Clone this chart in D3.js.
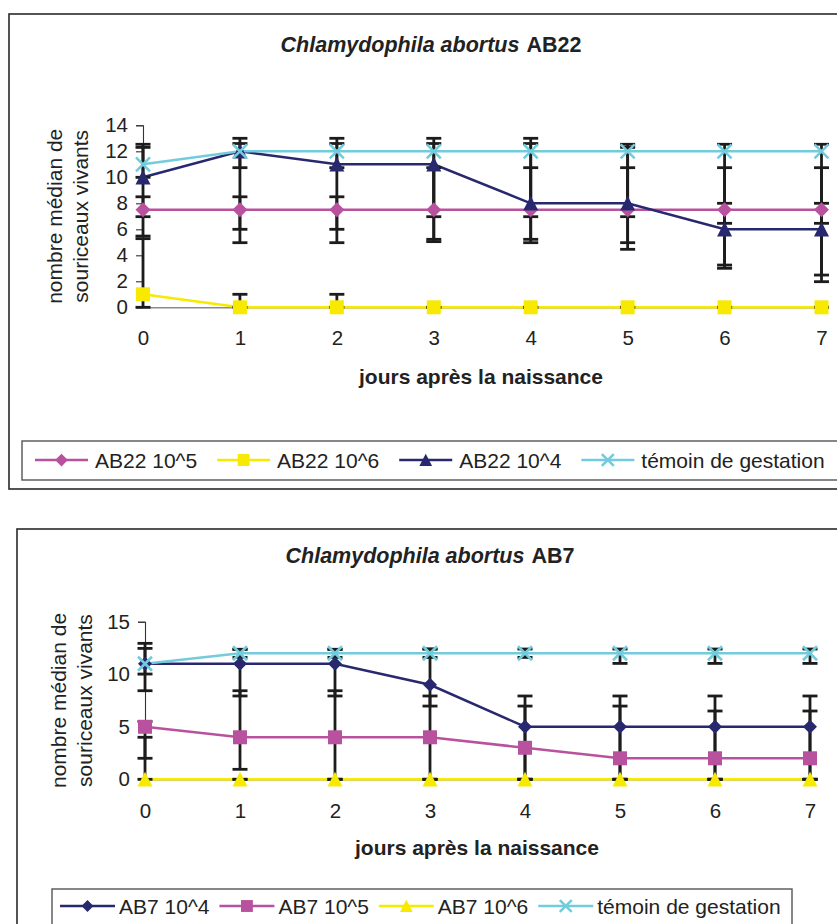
<!DOCTYPE html>
<html><head><meta charset="utf-8">
<script src="https://cdn.jsdelivr.net/npm/d3@7"></script>
<style>
body{margin:0;background:#fff}
svg{display:block;font-family:"Liberation Sans",Arial,Helvetica,sans-serif}
</style>
</head><body>
<svg id="c" width="837" height="924"></svg>
<script>
// ---------- shared ----------
const days = [0, 1, 2, 3, 4, 5, 6, 7];
const xTickLabels = ["0", "1", "2", "3", "4", "5", "6", "7"];
const xAxisTitle = "jours après la naissance";
const yAxisTitleLines = ["nombre médian de", "souriceaux vivants"];
const titleItalic = "Chlamydophila abortus";

// ---------- chart 1 : AB22 ----------
const ab22Strain = "AB22";
const ab22YTicks = [0, 2, 4, 6, 8, 10, 12, 14];
const ab22Names = ["AB22 10^5", "AB22 10^6", "AB22 10^4", "témoin de gestation"];
const ab22_e5 = [7.5, 7.5, 7.5, 7.5, 7.5, 7.5, 7.5, 7.5];
const ab22_e5_low = [6.97, 6.0, 6.0, 6.97, 6.97, 6.97, 6.46, 6.46];
const ab22_e5_high = [8.5, 8.5, 8.5, 10.74, 10.74, 10.74, 8.0, 8.0];
const ab22_e6 = [1, 0, 0, 0, 0, 0, 0, 0];
const ab22_e6_low = [0, 0, 0, 0, 0, 0, 0, 0];
const ab22_e6_high = [5.28, 1, 1, 0, 0, 0, 0, 0];
const ab22_e4 = [10, 12, 11, 11, 8, 8, 6, 6];
const ab22_e4_low = [5.48, 4.97, 4.97, 5.05, 4.97, 4.46, 3.0, 1.97];
const ab22_e4_high = [12.3, 12.6, 12.6, 12.6, 12.6, 12.3, 10.74, 10.74];
const ab22_tem = [11, 12, 12, 12, 12, 12, 12, 12];
const ab22_tem_low = [10.0, 10.74, 10.74, 5.23, 5.23, 4.97, 3.25, 2.48];
const ab22_tem_high = [12.54, 13.0, 13.0, 13.0, 13.0, 12.54, 12.54, 12.54];

// ---------- chart 2 : AB7 ----------
const ab7Strain = "AB7";
const ab7YTicks = [0, 5, 10, 15];
const ab7Names = ["AB7 10^4", "AB7 10^5", "AB7 10^6", "témoin de gestation"];
const ab7_e4 = [11, 11, 11, 9, 5, 5, 5, 5];
const ab7_e4_low = [8.43, 7.93, 7.93, 6.97, 0, 0, 0, 0];
const ab7_e4_high = [12.46, 12.37, 12.37, 12.4, 6.97, 7.93, 7.93, 7.93];
const ab7_e5 = [5, 4, 4, 4, 3, 2, 2, 2];
const ab7_e5_low = [2.0, 0.95, 0, 0, 0, 0, 0, 0];
const ab7_e5_high = [5.5, 8.43, 8.43, 7.93, 7.93, 6.97, 6.5, 6.5];
const ab7_e6 = [0, 0, 0, 0, 0, 0, 0, 0];
const ab7_e6_low = [0, 0, 0, 0, 0, 0, 0, 0];
const ab7_e6_high = [4.0, 0, 0, 0, 0, 0, 0, 0];
const ab7_tem = [11, 12, 12, 12, 12, 12, 12, 12];
const ab7_tem_low = [10.02, 11.6, 11.6, 11.6, 11.6, 11.03, 11.03, 11.03];
const ab7_tem_high = [12.94, 12.37, 12.37, 12.4, 12.4, 12.4, 12.4, 12.4];

// ---------- styles ----------
const PINK = "#B9529E", YELLOW = "#F7EA00", NAVY = "#28286F", CYAN = "#72CCDB";
const ERR = "#1c1c1c";

const svg = d3.select("#c");

function markerPath(shape, r) {
  if (shape === "diamond") return `M0,${-r}L${r},0L0,${r}L${-r},0Z`;
  if (shape === "square") return `M${-r},${-r}H${r}V${r}H${-r}Z`;
  if (shape === "triangle") return `M0,${-r}L${r},${r * 0.95}L${-r},${r * 0.95}Z`;
  if (shape === "x") return `M${-r},${-r}L${r},${r}M${-r},${r}L${r},${-r}`;
}
function drawMarker(g, shape, color, x, y, r) {
  const p = g.append("path").attr("d", markerPath(shape, r)).attr("transform", `translate(${x},${y})`);
  if (shape === "x") p.attr("fill", "none").attr("stroke", color).attr("stroke-width", 2.6);
  else p.attr("fill", color);
}

function drawChart(cfg) {
  const g = svg.append("g");
  // outer frame
  g.append("rect").attr("x", cfg.frame[0]).attr("y", cfg.frame[1])
    .attr("width", cfg.frame[2]).attr("height", cfg.frame[3])
    .attr("fill", "none").attr("stroke", "#2a2a2a").attr("stroke-width", 1.6);

  const x = d3.scaleLinear().domain([0, 7]).range([cfg.plot.x0, cfg.plot.x1]);
  const y = d3.scaleLinear().domain([0, cfg.yMax]).range([cfg.plot.y0, cfg.plot.y1]);

  // title
  const t = g.append("text").attr("x", cfg.titleX).attr("y", cfg.titleY)
    .attr("text-anchor", "middle").attr("font-size", 21.5).attr("font-weight", "bold").attr("fill", "#222");
  t.append("tspan").attr("font-style", "italic").text(titleItalic);
  t.append("tspan").attr("dx", 7).text(cfg.strain);

  // y axis
  const yAxis = d3.axisLeft(y).tickValues(cfg.yTicks).tickSize(7).tickPadding(8);
  const ya = g.append("g").attr("transform", `translate(${cfg.plot.x0},0)`).call(yAxis);
  ya.select(".domain").attr("stroke", "#333").attr("stroke-width", 1.1);
  ya.selectAll(".tick line").attr("stroke", "#333").attr("stroke-width", 1.1);
  ya.selectAll(".tick text").attr("font-size", 20.5).attr("fill", "#222")
    .attr("font-family", "'Liberation Sans',Arial,sans-serif");

  // x axis (line at 0, labels below)
  const xAxis = d3.axisBottom(x).tickValues(days).tickFormat((d, i) => xTickLabels[i]).tickSize(0).tickPadding(cfg.xTickPad);
  const xa = g.append("g").attr("transform", `translate(0,${y(0)})`).call(xAxis);
  xa.select(".domain").attr("stroke", "#8a8a8a").attr("stroke-width", 1.6);
  xa.selectAll(".tick text").attr("font-size", 20.5).attr("fill", "#222")
    .attr("font-family", "'Liberation Sans',Arial,sans-serif");

  // axis titles
  g.append("text").attr("x", cfg.xTitleX).attr("y", cfg.xTitleY).attr("text-anchor", "middle")
    .attr("font-size", 21).attr("font-weight", "bold").attr("fill", "#222").text(xAxisTitle);
  const ymid = (cfg.plot.y0 + cfg.plot.y1) / 2;
  yAxisTitleLines.forEach((line, i) => {
    g.append("text").attr("transform", `translate(${cfg.yTitleX[i]},${ymid}) rotate(-90)`)
      .attr("text-anchor", "middle").attr("font-size", 21).attr("fill", "#222").text(line);
  });

  // series lines
  const lineGen = d3.line().x((d, i) => x(days[i])).y(d => y(d));
  cfg.series.forEach(s => {
    g.append("path").attr("d", lineGen(s.values)).attr("fill", "none")
      .attr("stroke", s.color).attr("stroke-width", 2.5);
  });
  // error bars
  const eg = g.append("g").attr("stroke", ERR).attr("stroke-width", 2.8);
  cfg.series.forEach(s => {
    days.forEach((d, i) => {
      const lo = s.low[i], hi = s.high[i], cx = x(d);
      eg.append("line").attr("x1", cx).attr("x2", cx).attr("y1", y(lo)).attr("y2", y(hi));
      [lo, hi].forEach(v => {
        eg.append("line").attr("x1", cx - 7.5).attr("x2", cx + 7.5).attr("y1", y(v)).attr("y2", y(v));
      });
    });
  });
  // markers
  cfg.series.forEach(s => {
    s.values.forEach((v, i) => drawMarker(g, s.shape, s.color, x(days[i]), y(v), s.r));
  });

  // legend
  const L = cfg.legend;
  g.append("rect").attr("x", L.box[0]).attr("y", L.box[1]).attr("width", L.box[2]).attr("height", L.box[3])
    .attr("fill", "#fff").attr("stroke", "#555").attr("stroke-width", 1.4);
  let lx = L.x0;
  cfg.series.forEach(s => {
    g.append("line").attr("x1", lx).attr("x2", lx + L.len).attr("y1", L.cy).attr("y2", L.cy)
      .attr("stroke", s.color).attr("stroke-width", 2.5);
    drawMarker(g, s.shape, s.color, lx + L.len / 2, L.cy, s.r * 0.85);
    const tx = g.append("text").attr("x", lx + L.len + L.off).attr("y", L.cy + 7.5).attr("font-size", L.fs)
      .attr("fill", "#222").text(s.name);
    lx += L.len + L.off + tx.node().getComputedTextLength() + L.gap;
  });
}

drawChart({
  frame: [9, 14, 860, 475],
  plot: { x0: 143, x1: 821.5, y0: 307.3, y1: 125.3 },
  yMax: 14, yTicks: ab22YTicks, strain: ab22Strain,
  titleX: 431, titleY: 52, xTickPad: 23, xTitleX: 481, xTitleY: 384,
  yTitleX: [62, 88],
  series: [
    { name: ab22Names[0], values: ab22_e5, low: ab22_e5_low, high: ab22_e5_high, color: PINK, shape: "diamond", r: 7.5 },
    { name: ab22Names[1], values: ab22_e6, low: ab22_e6_low, high: ab22_e6_high, color: YELLOW, shape: "square", r: 7 },
    { name: ab22Names[2], values: ab22_e4, low: ab22_e4_low, high: ab22_e4_high, color: NAVY, shape: "triangle", r: 7.5 },
    { name: ab22Names[3], values: ab22_tem, low: ab22_tem_low, high: ab22_tem_high, color: CYAN, shape: "x", r: 7 }
  ],
  legend: { box: [22, 441, 840, 39], x0: 35, cy: 460, fs: 21, len: 53, off: 7, gap: 20 }
});

drawChart({
  frame: [17, 529, 860, 420],
  plot: { x0: 145, x1: 810, y0: 779.3, y1: 621.7 },
  yMax: 15, yTicks: ab7YTicks, strain: ab7Strain,
  titleX: 430, titleY: 563, xTickPad: 24, xTitleX: 477, xTitleY: 855,
  yTitleX: [66, 92],
  series: [
    { name: ab7Names[0], values: ab7_e4, low: ab7_e4_low, high: ab7_e4_high, color: NAVY, shape: "diamond", r: 7 },
    { name: ab7Names[1], values: ab7_e5, low: ab7_e5_low, high: ab7_e5_high, color: PINK, shape: "square", r: 7 },
    { name: ab7Names[2], values: ab7_e6, low: ab7_e6_low, high: ab7_e6_high, color: YELLOW, shape: "triangle", r: 7.5 },
    { name: ab7Names[3], values: ab7_tem, low: ab7_tem_low, high: ab7_tem_high, color: CYAN, shape: "x", r: 7 }
  ],
  legend: { box: [52, 889, 740, 50], x0: 60, cy: 906, fs: 21, len: 55, off: 4, gap: 10 }
});
</script>
</body></html>
